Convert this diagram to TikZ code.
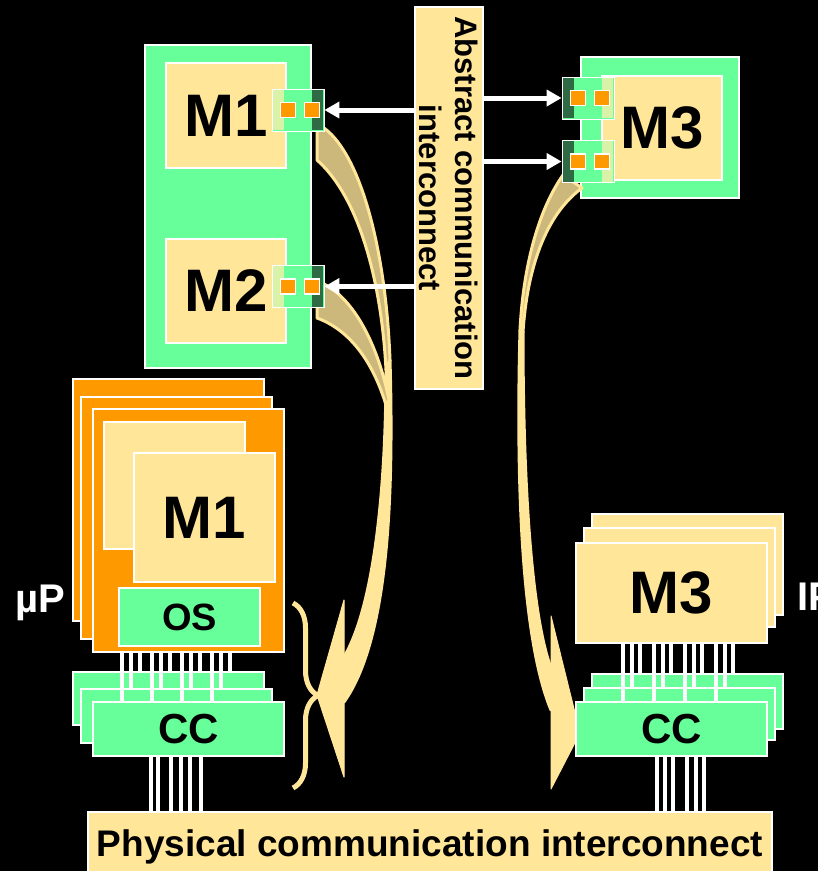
\documentclass[tikz,border=0pt]{standalone}
\usepackage{fontspec}
\setmainfont{Liberation Sans}
\usetikzlibrary{arrows.meta, decorations.pathreplacing}
\definecolor{mint}{HTML}{66FF99}
\definecolor{butter}{HTML}{FFE699}
\definecolor{amber}{HTML}{FF9900}
\definecolor{khaki}{HTML}{CCB87A}
\definecolor{pine}{HTML}{2E6B45}
\definecolor{pale}{HTML}{D8F2A8}

\begin{document}
\begin{tikzpicture}[x=1pt, y=-1pt,
  every node/.style={text=black, inner sep=0pt},
  gbox/.style={fill=mint, draw=white, line width=1.5pt},
  ybox/.style={fill=butter, draw=white, line width=1.5pt},
  obox/.style={fill=amber, draw=white, line width=1.5pt},
  port/.style={fill=mint, draw=white, line width=0.8pt, minimum width=52pt, minimum height=42pt},
  pad/.style={fill=amber, draw=white, line width=1.5pt, minimum width=15pt, minimum height=15pt},
  wire/.style={white, line width=3.5pt},
  link/.style={white, line width=5pt, -{Triangle[length=15pt, width=16pt]}},
  flow/.style={fill=khaki, draw=butter, line width=3pt, line join=round},
  tail/.style={fill=butter, draw=butter, line width=3pt, line join=round},
  head/.style={fill=butter, draw=butter, line width=1pt, line join=round},
  huge/.style={font=\fontsize{60}{60}\selectfont\bfseries},
  mid/.style={font=\fontsize{40}{40}\selectfont\bfseries},
]

% Background
\useasboundingbox (0,0) rectangle (818,871);
\fill[black] (0,0) rectangle (818,871);

% Abstract level: M1, M2 on one side, M3 on the other
\node[gbox, minimum width=166pt, minimum height=323pt] (gbox12) at (228,206.5) {};
\node[ybox, huge, minimum width=120pt, minimum height=105pt] (m1top) at (226,115.5) {M1};
\node[ybox, huge, minimum width=120pt, minimum height=104pt] (m2top) at (226,291) {M2};
\node[gbox, minimum width=158pt, minimum height=141pt] (gbox3) at (660,127.5) {};
\node[ybox, huge, minimum width=120pt, minimum height=104pt] (m3top) at (662,128) {M3};

% Abstract interconnect
\node[ybox, minimum width=68pt, minimum height=382pt] (abs) at (449,198) {};
\node[rotate=-90, align=center, font=\fontsize{31}{36}\selectfont\bfseries] (abstxt) at (abs.center)
  {Abstract communication\\interconnect};

% Refinement arrows, left: M1 and M2 down to the processor
\draw[tail] (390,360) .. controls (394,500) and (388,640) .. (344,702)
  -- (344,657) .. controls (372,610) and (386,500) .. (386,370) -- cycle;
\draw[flow] (317,283) -- (322,283) .. controls (354,298) and (378,345) .. (389,400)
  -- (386,405) .. controls (373,362) and (350,330) .. (317,318) -- cycle;
\draw[flow] (317,126) -- (321,126) .. controls (360,150) and (386,250) .. (390,360)
  -- (386,370) .. controls (382,290) and (362,200) .. (317,160) -- cycle;
\draw[head] (317,695) -- (344,600) -- (344,777) -- cycle;

% Refinement arrow, right: M3 down to the hardware
\draw[tail] (520,330) .. controls (515,520) and (526,650) .. (551,710)
  -- (551,668) .. controls (533,620) and (523,500) .. (523,332) -- cycle;
\draw[flow] (563,175) .. controls (537,212) and (523,270) .. (520,330)
  -- (523,332) .. controls (527,270) and (545,215) .. (582,188) -- cycle;
\draw[head] (580,733) -- (551,616) -- (551,789) -- cycle;

% Ports
\node[port] (p1) at (298,110) {};
\node[port] (p2) at (298,286.5) {};
\node[port] (p3) at (588,98) {};
\node[port] (p4) at (588,161.5) {};
\foreach \p/\l/\r in {p1/pale/pine, p2/pale/pine, p3/pine/pale, p4/pine/pale} {
  \fill[\l] ([xshift=1pt, yshift=-1pt]\p.north west) rectangle ([xshift=12pt, yshift=1pt]\p.south west);
  \fill[\r] ([xshift=-12pt, yshift=-1pt]\p.north east) rectangle ([xshift=-1pt, yshift=1pt]\p.south east);
  \node[pad] (\p a) at ([xshift=-10pt]\p.center) {};
  \node[pad] (\p b) at ([xshift=14pt]\p.center) {};
}

% Links from the abstract interconnect
\draw[link] (abs.west |- p1) -- (p1.east);
\draw[link] (abs.west |- p2) -- (p2.east);
\draw[link] (abs.east |- p3) -- (p3.west);
\draw[link] (abs.east |- p4) -- (p4.west);

% Processor side
\node[obox, minimum width=191pt, minimum height=242pt] (orng1) at (168.5,500) {};
\node[obox, minimum width=191pt, minimum height=242pt] (orng2) at (176.5,518) {};
\node[obox, minimum width=191pt, minimum height=243pt] (orng3) at (188.5,530.5) {};
\node[ybox, minimum width=141pt, minimum height=127pt] (yback) at (174.5,485.5) {};
\node[ybox, huge, minimum width=141pt, minimum height=129pt] (m1low) at (204.5,517.5) {M1};
\node[gbox, font=\fontsize{38}{38}\selectfont\bfseries, minimum width=141pt, minimum height=58pt] (os) at (189.5,617) {OS};
\node[gbox, minimum width=191pt, minimum height=53pt] (cc1) at (168.5,698.5) {};
\node[gbox, minimum width=191pt, minimum height=54pt] (cc2) at (176.5,716) {};
\node[gbox, font=\fontsize{42}{42}\selectfont\bfseries, minimum width=191pt, minimum height=54pt] (cc3) at (188.5,729) {CC};
\foreach \x/\e in {122/cc3, 131/cc2, 140/cc1, 152/cc3, 161/cc2, 170/cc1,
                   182/cc3, 191/cc2, 200/cc1, 212/cc3, 221/cc2, 230/cc1}
  \draw[wire] (\x,0 |- orng3.south) -- (\x,0 |- \e.north);
\node[mid, text=white, anchor=base west] (uplbl) at (15,612) {µP};
\draw[decorate, decoration={brace, amplitude=25pt}, butter, line width=5pt] (293,603) -- (293,788);

% Hardware side
\node[ybox, minimum width=191pt, minimum height=101pt] (yb1) at (687.5,564.5) {};
\node[ybox, minimum width=191pt, minimum height=99pt] (yb2) at (679.5,577.5) {};
\node[ybox, huge, minimum width=191pt, minimum height=100pt] (m3low) at (671.5,593) {M3};
\node[gbox, minimum width=191pt, minimum height=55pt] (rcc1) at (687.5,701.5) {};
\node[gbox, minimum width=191pt, minimum height=52pt] (rcc2) at (679.5,714) {};
\node[gbox, font=\fontsize{42}{42}\selectfont\bfseries, minimum width=191pt, minimum height=54pt] (rcc3) at (671.5,729) {CC};
\foreach \x/\e in {623/rcc3, 632/rcc2, 640/rcc1, 654/rcc3, 663/rcc2, 671/rcc1,
                   685/rcc3, 694/rcc2, 702/rcc1, 716/rcc3, 725/rcc2, 733/rcc1}
  \draw[wire] (\x,0 |- m3low.south) -- (\x,0 |- \e.north);
\node[mid, text=white, anchor=base west] (iplbl) at (797,610) {IP};

% Physical interconnect
\node[ybox, font=\fontsize{37}{37}\selectfont\bfseries, minimum width=684pt, minimum height=70pt] (phys) at (430,847)
  {Physical communication interconnect};
\foreach \x in {151, 158, 171, 181, 190, 201}
  \draw[wire] (\x,0 |- cc3.south) -- (\x,0 |- phys.north);
\foreach \x in {657, 665, 673, 687, 696, 704}
  \draw[wire] (\x,0 |- rcc3.south) -- (\x,0 |- phys.north);

\end{tikzpicture}
\end{document}
